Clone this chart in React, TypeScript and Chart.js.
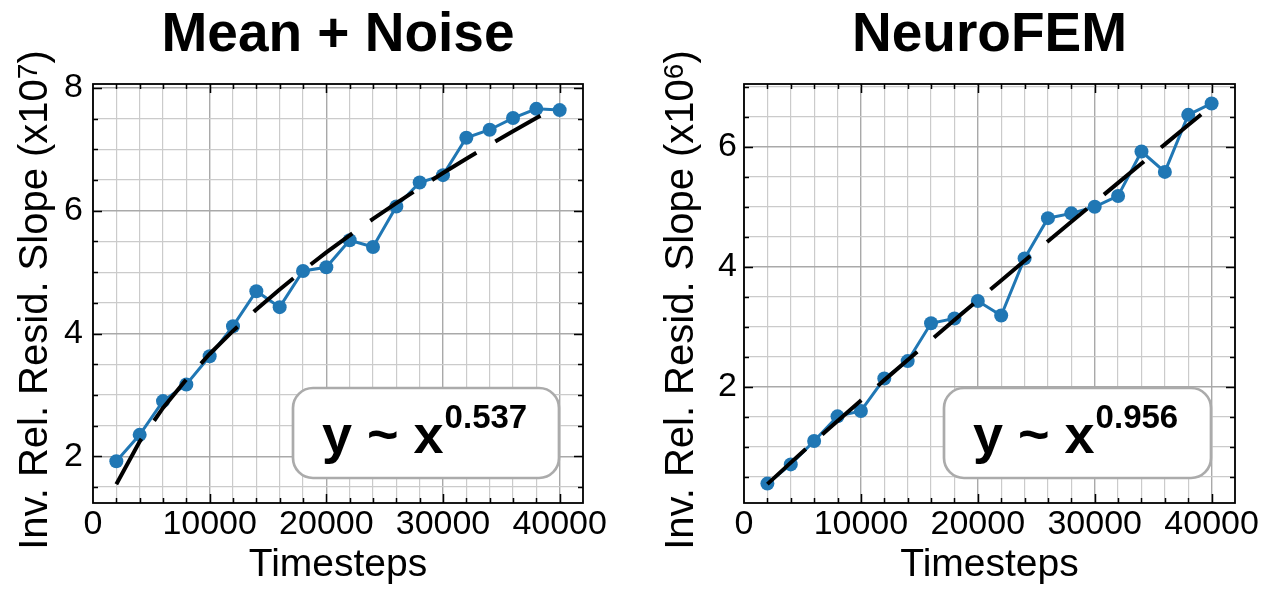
import React, { useEffect, useRef } from "react";
import { Chart, registerables } from "chart.js";

Chart.register(...registerables);

const FONT = "'Liberation Sans', Arial, Helvetica, sans-serif";
Chart.defaults.font.family = FONT;

// ---------- data ----------
const timesteps = [2000, 4000, 6000, 8000, 10000, 12000, 14000, 16000, 18000, 20000, 22000, 24000, 26000, 28000, 30000, 32000, 34000, 36000, 38000, 40000];

const meanNoiseValues = [1.92, 2.35, 2.9, 3.17, 3.63, 4.12, 4.69, 4.43, 5.02, 5.08, 5.52, 5.41, 6.07, 6.46, 6.58, 7.19, 7.32, 7.51, 7.66, 7.64];
const meanNoiseFit = [1.545, 2.242, 2.788, 3.252, 3.667, 4.044, 4.393, 4.719, 5.028, 5.321, 5.6, 5.868, 6.126, 6.374, 6.615, 6.848, 7.075, 7.295, 7.51, 7.72];

const neuroFemValues = [0.39, 0.71, 1.1, 1.51, 1.6, 2.14, 2.43, 3.06, 3.14, 3.43, 3.19, 4.14, 4.81, 4.89, 5.0, 5.18, 5.92, 5.58, 6.53, 6.72];
const neuroFemFit = [0.381, 0.739, 1.09, 1.434, 1.775, 2.113, 2.449, 2.782, 3.113, 3.444, 3.772, 4.1, 4.426, 4.75, 5.074, 5.397, 5.719, 6.039, 6.361, 6.68];

const xTickValues = [0, 2000, 4000, 6000, 8000, 10000, 12000, 14000, 16000, 18000, 20000, 22000, 24000, 26000, 28000, 30000, 32000, 34000, 36000, 38000, 40000, 42000];
const xLabelValues = [0, 10000, 20000, 30000, 40000];
const xLabels = ["0", "10000", "20000", "30000", "40000"];

const meanYTickValues = [1.5, 2, 2.5, 3, 3.5, 4, 4.5, 5, 5.5, 6, 6.5, 7, 7.5, 8];
const meanYLabelValues = [2, 4, 6, 8];
const meanYLabels = ["2", "4", "6", "8"];

const neuroYTickValues = [0.5, 1, 1.5, 2, 2.5, 3, 3.5, 4, 4.5, 5, 5.5, 6, 6.5, 7];
const neuroYLabelValues = [2, 4, 6];
const neuroYLabels = ["2", "4", "6"];

// ---------- styles ----------
const BLUE = "#2077b4";
const MAJOR_GRID = "#a9a9a9";
const MINOR_GRID = "#cbcbcb";

type PanelCfg = {
  title: string;
  values: number[];
  fit: number[];
  yMin: number;
  yMax: number;
  yTicks: number[];
  yLabelValues: number[];
  yLabels: string[];
  yExp: string;
  fitExp: string;
  width: number;
  left: number;
  yAxisWidth: number;
  rightPad: number;
  yTickPad: number;
  yTitleX: number;
};

function makePlugin(cfg: PanelCfg) {
  return {
    id: "decor",
    afterDatasetsDraw(chart: any) {
      const { ctx, chartArea: a, scales } = chart;
      const xs = scales.x;
      const ys = scales.y;
      ctx.save();
      // inward ticks
      ctx.strokeStyle = "#000";
      ctx.lineWidth = 1.5;
      ctx.beginPath();
      for (const v of xTickValues) {
        const px = Math.round(xs.getPixelForValue(v)) + 0.5;
        if (px <= a.left + 1 || px >= a.right - 1) continue;
        const len = xLabelValues.includes(v) ? 9 : 5;
        ctx.moveTo(px, a.bottom);
        ctx.lineTo(px, a.bottom - len);
        ctx.moveTo(px, a.top);
        ctx.lineTo(px, a.top + len);
      }
      for (const v of cfg.yTicks) {
        const py = Math.round(ys.getPixelForValue(v)) + 0.5;
        if (py <= a.top + 1 || py >= a.bottom - 1) continue;
        const len = cfg.yLabelValues.includes(v) ? 9 : 5;
        ctx.moveTo(a.left, py);
        ctx.lineTo(a.left + len, py);
        ctx.moveTo(a.right, py);
        ctx.lineTo(a.right - len, py);
      }
      ctx.stroke();
      // frame
      ctx.lineWidth = 1.8;
      ctx.strokeRect(a.left, a.top, a.right - a.left, a.bottom - a.top);

      // annotation box
      const bx = a.left + 200;
      const bw = a.right - 24 - bx;
      const by = a.bottom - 115;
      const bh = 90;
      const r = 20;
      ctx.beginPath();
      ctx.moveTo(bx + r, by);
      ctx.arcTo(bx + bw, by, bx + bw, by + bh, r);
      ctx.arcTo(bx + bw, by + bh, bx, by + bh, r);
      ctx.arcTo(bx, by + bh, bx, by, r);
      ctx.arcTo(bx, by, bx + bw, by, r);
      ctx.closePath();
      ctx.fillStyle = "#ffffff";
      ctx.fill();
      ctx.strokeStyle = "#ababab";
      ctx.lineWidth = 2.7;
      ctx.stroke();

      ctx.fillStyle = "#000";
      ctx.textAlign = "left";
      ctx.textBaseline = "alphabetic";
      ctx.font = `bold 54px ${FONT}`;
      const base = "y ~ x";
      const tx = bx + 29;
      ctx.fillText(base, tx, by + 65);
      const bwid = ctx.measureText(base).width;
      ctx.font = `bold 33px ${FONT}`;
      ctx.fillText(cfg.fitExp, tx + bwid + 1, by + 40);
      ctx.restore();
    },
    afterDraw(chart: any) {
      const { ctx, chartArea: a } = chart;
      ctx.save();
      ctx.fillStyle = "#000";
      // title
      ctx.font = `bold 55px ${FONT}`;
      ctx.textAlign = "center";
      ctx.textBaseline = "alphabetic";
      ctx.fillText(cfg.title, (a.left + a.right) / 2, 51);

      // y axis title with superscript
      const main = "Inv. Rel. Resid. Slope (x10";
      const close = ")";
      const mainFont = `40px ${FONT}`;
      const supFont = `28px ${FONT}`;
      ctx.textAlign = "left";
      ctx.font = mainFont;
      const w1 = ctx.measureText(main).width;
      const w3 = ctx.measureText(close).width;
      ctx.font = supFont;
      const w2 = ctx.measureText(cfg.yExp).width;
      const total = w1 + w2 + w3;
      ctx.translate(cfg.yTitleX, 300);
      ctx.rotate(-Math.PI / 2);
      let x = -total / 2;
      ctx.font = mainFont;
      ctx.fillText(main, x, 0);
      x += w1;
      ctx.font = supFont;
      ctx.fillText(cfg.yExp, x, -10);
      x += w2;
      ctx.font = mainFont;
      ctx.fillText(close, x, 0);
      ctx.restore();
    },
  };
}

function Panel({ cfg }: { cfg: PanelCfg }) {
  const ref = useRef<HTMLCanvasElement | null>(null);
  useEffect(() => {
    if (!ref.current) return;
    const chart = new Chart(ref.current, {
      type: "line",
      data: {
        datasets: [
          {
            label: "fit",
            data: timesteps.map((t, i) => ({ x: t, y: cfg.fit[i] })),
            borderColor: "#000",
            borderWidth: 4,
            borderDash: [52, 22],
            borderCapStyle: "butt",
            pointRadius: 0,
            pointHoverRadius: 0,
            tension: 0,
            order: 0,
          },
          {
            label: "data",
            data: timesteps.map((t, i) => ({ x: t, y: cfg.values[i] })),
            borderColor: BLUE,
            backgroundColor: BLUE,
            borderWidth: 3,
            pointRadius: 7,
            pointHoverRadius: 7,
            pointBackgroundColor: BLUE,
            pointBorderWidth: 0,
            tension: 0,
            order: 1,
          },
        ],
      } as any,
      plugins: [makePlugin(cfg)],
      options: {
        responsive: false,
        animation: false,
        events: [],
        layout: { padding: { top: 84, right: cfg.rightPad, left: 0, bottom: 0 } },
        plugins: {
          legend: { display: false },
          tooltip: { enabled: false },
          title: { display: false },
        },
        scales: {
          x: {
            type: "linear",
            min: 0,
            max: 42000,
            afterBuildTicks: (s: any) => {
              s.ticks = xTickValues.map((v) => ({ value: v }));
            },
            afterFit: (s: any) => {
              s.height = 89;
            },
            ticks: {
              autoSkip: false,
              maxRotation: 0,
              minRotation: 0,
              padding: 1,
              color: "#000",
              font: { size: 34, family: FONT },
              callback: (v: any) => {
                const idx = xLabelValues.indexOf(Number(v));
                return idx >= 0 ? xLabels[idx] : "";
              },
            },
            grid: {
              drawTicks: false,
              color: (c: any) => (c.tick && xLabelValues.includes(c.tick.value) ? MAJOR_GRID : MINOR_GRID),
              lineWidth: (c: any) => (c.tick && xLabelValues.includes(c.tick.value) ? 1.4 : 1.2),
            },
            border: { display: false },
            title: {
              display: true,
              text: "Timesteps",
              color: "#000",
              font: { size: 39, family: FONT },
              padding: { top: 0, bottom: 3 },
            },
          },
          y: {
            type: "linear",
            min: cfg.yMin,
            max: cfg.yMax,
            afterBuildTicks: (s: any) => {
              s.ticks = cfg.yTicks.map((v) => ({ value: v }));
            },
            afterFit: (s: any) => {
              s.width = cfg.yAxisWidth;
            },
            ticks: {
              autoSkip: false,
              padding: cfg.yTickPad,
              color: "#000",
              font: { size: 34, family: FONT },
              callback: (v: any) => {
                const idx = cfg.yLabelValues.indexOf(Number(v));
                return idx >= 0 ? cfg.yLabels[idx] : "";
              },
            },
            grid: {
              drawTicks: false,
              color: (c: any) => (c.tick && cfg.yLabelValues.includes(c.tick.value) ? MAJOR_GRID : MINOR_GRID),
              lineWidth: (c: any) => (c.tick && cfg.yLabelValues.includes(c.tick.value) ? 1.4 : 1.2),
            },
            border: { display: false },
          },
        },
      } as any,
    });
    return () => chart.destroy();
  }, []);
  return (
    <div style={{ position: "absolute", left: cfg.left, top: 0, width: cfg.width, height: 592 }}>
      <canvas ref={ref} width={cfg.width} height={592} style={{ display: "block" }} />
    </div>
  );
}

const meanCfg: PanelCfg = {
  title: "Mean + Noise",
  values: meanNoiseValues,
  fit: meanNoiseFit,
  yMin: 1.24,
  yMax: 8.065,
  yTicks: meanYTickValues,
  yLabelValues: meanYLabelValues,
  yLabels: meanYLabels,
  yExp: "7",
  fitExp: "0.537",
  width: 635,
  left: 0,
  yAxisWidth: 93,
  rightPad: 52,
  yTickPad: 10,
  yTitleX: 47,
};

const neuroCfg: PanelCfg = {
  title: "NeuroFEM",
  values: neuroFemValues,
  fit: neuroFemFit,
  yMin: 0.067,
  yMax: 7.044,
  yTicks: neuroYTickValues,
  yLabelValues: neuroYLabelValues,
  yLabels: neuroYLabels,
  yExp: "6",
  fitExp: "0.956",
  width: 636,
  left: 635,
  yAxisWidth: 109,
  rightPad: 36,
  yTickPad: 7,
  yTitleX: 58,
};

export default function App() {
  return (
    <div style={{ position: "fixed", left: 0, top: 0, width: 1271, height: 592, background: "#fff", overflow: "hidden" }}>
      <Panel cfg={meanCfg} />
      <Panel cfg={neuroCfg} />
    </div>
  );
}
